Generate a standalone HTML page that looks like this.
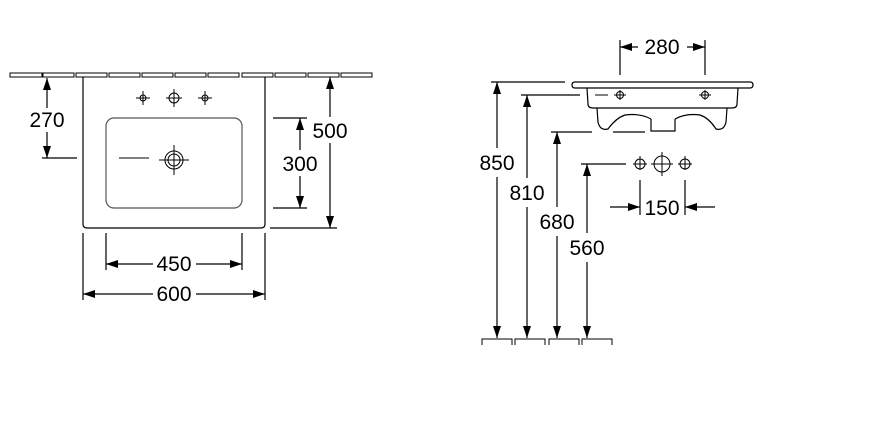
<!DOCTYPE html>
<html><head><meta charset="utf-8"><style>html,body{margin:0;padding:0;background:#fff}svg{display:block}</style></head>
<body>
<svg width="870" height="428" viewBox="0 0 870 428" xmlns="http://www.w3.org/2000/svg" font-family="Liberation Sans, Arial, sans-serif" font-size="21">
<defs>
<marker id="a" viewBox="0 0 12 8" refX="12" refY="4" markerWidth="12" markerHeight="8" markerUnits="userSpaceOnUse" orient="auto"><path d="M0,0 L12,4 L0,8 Z" fill="#000"/></marker>
</defs>
<g fill="none" stroke="#000" stroke-width="1.2">
<g stroke-width="1">
<rect x="10" y="73" width="32" height="4"/><rect x="43" y="73" width="31" height="4"/><rect x="76" y="73" width="31" height="4"/><rect x="109" y="73" width="31" height="4"/><rect x="142" y="73" width="31" height="4"/><rect x="175" y="73" width="31" height="4"/><rect x="208" y="73" width="31" height="4"/><rect x="242" y="73" width="31" height="4"/><rect x="275" y="73" width="31" height="4"/><rect x="308" y="73" width="31" height="4"/><rect x="341" y="73" width="31" height="4"/>
</g>
<path d="M83 77 V224 Q83 228 87 228 H261 Q265 228 265 224 V77"/>
<rect x="106" y="118" width="136" height="90" rx="8" stroke="#555"/>
<g stroke-width="1">
<circle cx="143" cy="98" r="3"/><path d="M136 98h14M143 91v14"/>
<circle cx="174" cy="98" r="5"/><path d="M166 98h16M174 89v18"/>
<circle cx="205" cy="98" r="3"/><path d="M198 98h14M205 91v14"/>
<circle cx="174" cy="160" r="6"/><circle cx="174" cy="160" r="9"/><path d="M159 160h30M174 145v30"/>
<path d="M119 158h30"/>
</g>
<path d="M42 158h35"/>
<path d="M47 108V78" marker-end="url(#a)"/><path d="M47 132v26" marker-end="url(#a)"/>
<path d="M273 118h34M273 208h34"/>
<path d="M300 150v-32" marker-end="url(#a)"/><path d="M300 176v32" marker-end="url(#a)"/>
<path d="M270 228h67"/>
<path d="M330 117V77" marker-end="url(#a)"/><path d="M330 143v85" marker-end="url(#a)"/>
<path d="M106 233v37M242 233v37"/>
<path d="M153 264h-47" marker-end="url(#a)"/><path d="M196 264h46" marker-end="url(#a)"/>
<path d="M83 233v67M265 233v67"/>
<path d="M153 294h-70" marker-end="url(#a)"/><path d="M196 294h69" marker-end="url(#a)"/>

<path d="M575 82 L750 82 Q753 82 753 85 Q753 88 750 88 L575 88 Q572 88 572 85 Q572 82 575 82Z"/>
<path d="M587 88 L588 104 Q588 108 593 108 L732 108 Q737 108 737 104 L738 88"/>
<path d="M597 108 L598 122 Q600 131 608 129 Q616 118 625 115 Q640 113 651 119 M675 119 Q686 113 700 115 Q709 118 716 129 Q724 131 726 122 L727 108"/>
<path d="M651 119 V131 H675 V119"/>
<g stroke-width="1">
<path d="M595 95h13"/>
<circle cx="620" cy="95" r="3.5"/><path d="M614 95h12M620 90v10"/>
<circle cx="705" cy="95" r="3.5"/><path d="M699 95h12M705 90v10"/>
<circle cx="640" cy="164" r="5"/><path d="M633 164h14M640 156v14"/>
<circle cx="662" cy="164" r="8"/><path d="M651 164h22M662 152v24"/>
<circle cx="685" cy="164" r="5"/><path d="M678 164h14M685 156v14"/>
</g>
<path d="M620 40v35M705 40v35"/>
<path d="M638 47h-18" marker-end="url(#a)"/><path d="M687 47h18" marker-end="url(#a)"/>
<path d="M491 82h74M521 95h59M551 132h41M613 132h32M581 164h45"/>
<path d="M497 148V82" marker-end="url(#a)"/><path d="M497 177V338" marker-end="url(#a)"/>
<path d="M527 178V95" marker-end="url(#a)"/><path d="M527 207V338" marker-end="url(#a)"/>
<path d="M557 207V132" marker-end="url(#a)"/><path d="M557 236V338" marker-end="url(#a)"/>
<path d="M587 233V164" marker-end="url(#a)"/><path d="M587 262V338" marker-end="url(#a)"/>
<path d="M640 180v35M685 180v35"/>
<path d="M610 207h30" marker-end="url(#a)"/><path d="M715 207h-30" marker-end="url(#a)"/>
<g stroke-width="1">
<path d="M482 345v-6h30v6M515 345v-6h30v6M549 345v-6h30v6M582 345v-6h30v6"/>
</g>
</g>
<g fill="#000" text-anchor="middle">
<text x="47" y="127">270</text>
<text x="300" y="171">300</text>
<text x="330" y="138">500</text>
<text x="174" y="271">450</text>
<text x="174" y="301">600</text>
<text x="662" y="54">280</text>
<text x="497" y="170">850</text>
<text x="527" y="200">810</text>
<text x="557" y="229">680</text>
<text x="587" y="255">560</text>
<text x="662" y="215">150</text>
</g>
</svg>
</body></html>
